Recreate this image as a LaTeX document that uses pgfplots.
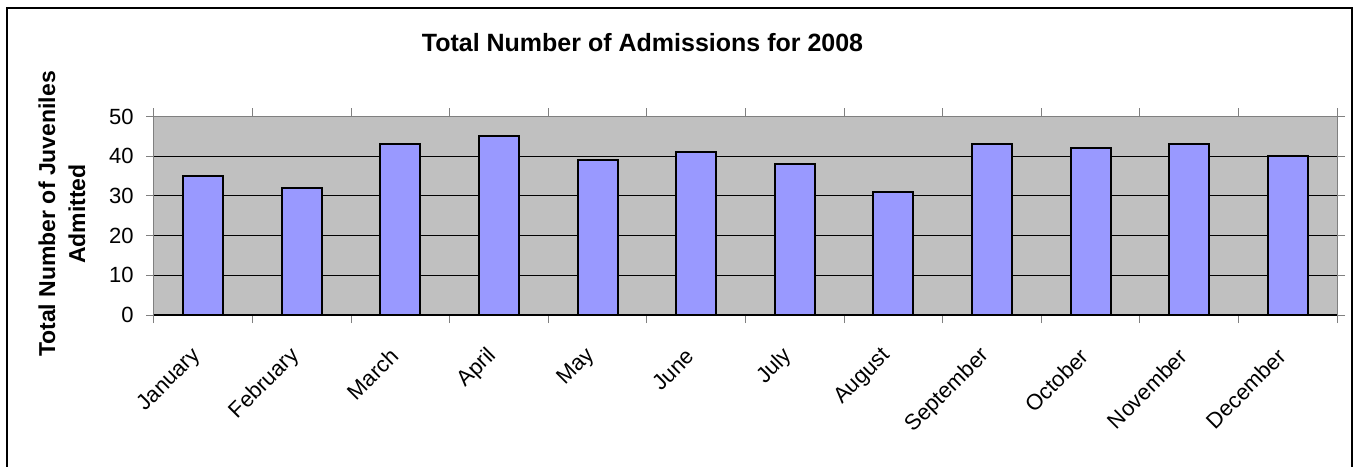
\documentclass[border=0pt]{standalone}
\usepackage{fontspec}
\setmainfont{Liberation Sans}
\usepackage{pgfplots}
\pgfplotsset{compat=1.18}
\definecolor{plotgray}{HTML}{C0C0C0}
\definecolor{barblue}{HTML}{9999FF}
\definecolor{axgray}{HTML}{808080}
\begin{document}
\begin{tikzpicture}
\path[use as bounding box] (-77pt,-75.5pt) rectangle (600.5pt,157.5pt);
\fill[white] (-77pt,-75.5pt) rectangle (600.5pt,157.5pt);
\draw[black, line width=1pt] (-73.5pt,-76pt) -- (-73.5pt,153.5pt) -- (599pt,153.5pt) -- (599pt,-76pt);
\begin{axis}[
  at={(0pt,0pt)}, anchor=south west,
  scale only axis, width=591.5pt, height=99.25pt,
  xmin=-0.5, xmax=11.5, ymin=0, ymax=50,
  ytick={0,10,20,30,40,50},
  xtick={-0.5,0.5,1.5,2.5,3.5,4.5,5.5,6.5,7.5,8.5,9.5,10.5},
  xticklabels={January,February,March,April,May,June,July,August,September,October,November,December},
  extra x ticks={11.5},
  extra x tick labels={},
  tick align=outside,
  major tick length=4pt,
  tick style={draw=axgray, line width=0.5pt},
  axis line style={draw=axgray, line width=0.5pt},
  axis background/.style={fill=plotgray},
  ymajorgrids,
  grid style={black, line width=0.5pt},
  /pgf/number format/assume math mode=true,
  ticklabel style={font=\fontsize{11}{13}\selectfont},
  yticklabel style={anchor=east, inner sep=0pt, xshift=-6pt},
  xticklabel style={inner sep=0pt, xshift=21.75pt, yshift=-14.75pt, rotate=45, anchor=east},
  clip=false,
]
\addplot[ybar, bar width=20pt, fill=barblue, draw=black, line width=1pt]
  coordinates {(0,35) (1,32) (2,43) (3,45) (4,39) (5,41) (6,38) (7,31) (8,43) (9,42) (10,43) (11,40)};
\draw[black, line width=0.75pt] (axis cs:-0.5,0) -- (axis cs:11.5,0);
\end{axis}
\node[anchor=base, font=\bfseries\fontsize{12.5}{15}\selectfont] at (244.25pt,131.6pt) {Total Number of Admissions for 2008};
\node[rotate=90, align=center, font=\bfseries\fontsize{11.5}{15}\selectfont] at (-46pt,50.5pt) {Total Number of Juveniles\\Admitted};
\end{tikzpicture}
\end{document}
